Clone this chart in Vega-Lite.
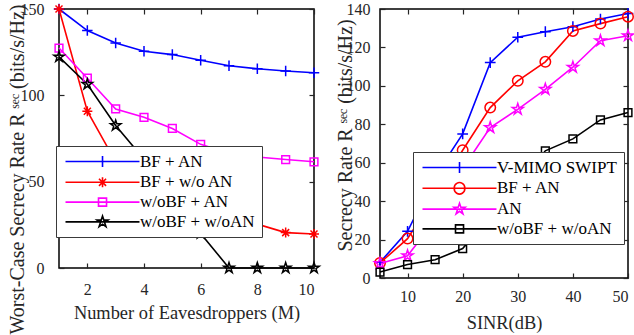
{
  "$schema": "https://vega.github.io/schema/vega-lite/v6.json",
  "padding": {"left": 6, "top": 0, "right": 0, "bottom": 0},
  "background": "white",
  "config": {
    "font": "Liberation Serif",
    "view": {"stroke": "#000000", "strokeWidth": 1.5},
    "axis": {
      "grid": false, "domain": false,
      "labelFont": "Liberation Serif", "labelFontSize": 16, "labelColor": "#262626",
      "titleFont": "Liberation Serif", "titleFontSize": 18.4, "titleFontWeight": "normal", "titleColor": "#262626",
      "tickColor": "#262626", "tickSize": -5, "tickWidth": 1.2
    },
    "legend": {
      "orient": "none", "labelFont": "Liberation Serif", "labelFontSize": 17, "labelColor": "#000000",
      "strokeColor": "#3a3a3a", "fillColor": "#ffffff", "padding": 7, "rowPadding": 1.8,
      "symbolSize": 144, "symbolStrokeWidth": 1.6, "symbolOpacity": 1, "labelOffset": 60, "title": null
    }
  },
  "resolve": {"scale": {"color": "independent", "shape": "independent"}, "legend": {"color": "independent", "shape": "independent"}},
  "datasets": {
    "left": [
      {"M": 1, "series": "BF + AN", "rate": 150}, {"M": 2, "series": "BF + AN", "rate": 137.5}, {"M": 3, "series": "BF + AN", "rate": 130.3}, {"M": 4, "series": "BF + AN", "rate": 125.5}, {"M": 5, "series": "BF + AN", "rate": 123.6}, {"M": 6, "series": "BF + AN", "rate": 120.3}, {"M": 7, "series": "BF + AN", "rate": 117.1}, {"M": 8, "series": "BF + AN", "rate": 115.4}, {"M": 9, "series": "BF + AN", "rate": 114.1}, {"M": 10, "series": "BF + AN", "rate": 113.1},
      {"M": 1, "series": "BF + w/o AN", "rate": 150}, {"M": 2, "series": "BF + w/o AN", "rate": 90.8}, {"M": 3, "series": "BF + w/o AN", "rate": 61.5}, {"M": 4, "series": "BF + w/o AN", "rate": 46}, {"M": 5, "series": "BF + w/o AN", "rate": 37}, {"M": 6, "series": "BF + w/o AN", "rate": 31}, {"M": 7, "series": "BF + w/o AN", "rate": 27.5}, {"M": 8, "series": "BF + w/o AN", "rate": 25.4}, {"M": 9, "series": "BF + w/o AN", "rate": 20.5}, {"M": 10, "series": "BF + w/o AN", "rate": 19.7},
      {"M": 1, "series": "w/oBF + AN", "rate": 127.4}, {"M": 2, "series": "w/oBF + AN", "rate": 109.9}, {"M": 3, "series": "w/oBF + AN", "rate": 92.1}, {"M": 4, "series": "w/oBF + AN", "rate": 87.3}, {"M": 5, "series": "w/oBF + AN", "rate": 80.8}, {"M": 6, "series": "w/oBF + AN", "rate": 71.6}, {"M": 7, "series": "w/oBF + AN", "rate": 66.5}, {"M": 8, "series": "w/oBF + AN", "rate": 64.3}, {"M": 9, "series": "w/oBF + AN", "rate": 62.8}, {"M": 10, "series": "w/oBF + AN", "rate": 61.5},
      {"M": 1, "series": "w/oBF + w/oAN", "rate": 122.3}, {"M": 2, "series": "w/oBF + w/oAN", "rate": 106.4}, {"M": 3, "series": "w/oBF + w/oAN", "rate": 82.5}, {"M": 4, "series": "w/oBF + w/oAN", "rate": 63}, {"M": 5, "series": "w/oBF + w/oAN", "rate": 42}, {"M": 6, "series": "w/oBF + w/oAN", "rate": 20}, {"M": 7, "series": "w/oBF + w/oAN", "rate": 0}, {"M": 8, "series": "w/oBF + w/oAN", "rate": 0}, {"M": 9, "series": "w/oBF + w/oAN", "rate": 0}, {"M": 10, "series": "w/oBF + w/oAN", "rate": 0}
    ],
    "right": [
      {"SINR": 5, "series": "V-MIMO SWIPT", "rate": 8.2}, {"SINR": 10, "series": "V-MIMO SWIPT", "rate": 24.3}, {"SINR": 15, "series": "V-MIMO SWIPT", "rate": 53}, {"SINR": 20, "series": "V-MIMO SWIPT", "rate": 75}, {"SINR": 25, "series": "V-MIMO SWIPT", "rate": 112.1}, {"SINR": 30, "series": "V-MIMO SWIPT", "rate": 125.3}, {"SINR": 35, "series": "V-MIMO SWIPT", "rate": 128.2}, {"SINR": 40, "series": "V-MIMO SWIPT", "rate": 130.8}, {"SINR": 45, "series": "V-MIMO SWIPT", "rate": 134.8}, {"SINR": 50, "series": "V-MIMO SWIPT", "rate": 137.7},
      {"SINR": 5, "series": "BF + AN", "rate": 7.8}, {"SINR": 10, "series": "BF + AN", "rate": 20.5}, {"SINR": 15, "series": "BF + AN", "rate": 43}, {"SINR": 20, "series": "BF + AN", "rate": 66.5}, {"SINR": 25, "series": "BF + AN", "rate": 88.7}, {"SINR": 30, "series": "BF + AN", "rate": 102.6}, {"SINR": 35, "series": "BF + AN", "rate": 112.5}, {"SINR": 40, "series": "BF + AN", "rate": 128.6}, {"SINR": 45, "series": "BF + AN", "rate": 132.4}, {"SINR": 50, "series": "BF + AN", "rate": 136},
      {"SINR": 5, "series": "AN", "rate": 7.5}, {"SINR": 10, "series": "AN", "rate": 11.6}, {"SINR": 15, "series": "AN", "rate": 30}, {"SINR": 20, "series": "AN", "rate": 57}, {"SINR": 25, "series": "AN", "rate": 78.3}, {"SINR": 30, "series": "AN", "rate": 87.8}, {"SINR": 35, "series": "AN", "rate": 98.2}, {"SINR": 40, "series": "AN", "rate": 109.7}, {"SINR": 45, "series": "AN", "rate": 123.5}, {"SINR": 50, "series": "AN", "rate": 126.1},
      {"SINR": 5, "series": "w/oBF + w/oAN", "rate": 3.1}, {"SINR": 10, "series": "w/oBF + w/oAN", "rate": 7}, {"SINR": 15, "series": "w/oBF + w/oAN", "rate": 9.5}, {"SINR": 20, "series": "w/oBF + w/oAN", "rate": 15.3}, {"SINR": 25, "series": "w/oBF + w/oAN", "rate": 32}, {"SINR": 30, "series": "w/oBF + w/oAN", "rate": 49}, {"SINR": 35, "series": "w/oBF + w/oAN", "rate": 66.2}, {"SINR": 40, "series": "w/oBF + w/oAN", "rate": 72.4}, {"SINR": 45, "series": "w/oBF + w/oAN", "rate": 82.3}, {"SINR": 50, "series": "w/oBF + w/oAN", "rate": 86.1}
    ]
  },
  "bounds": "flush",
  "spacing": 66,
  "hconcat": [
    {
      "width": 255, "height": 259,
      "data": {"name": "left"},
      "resolve": {"axis": {"x": "independent", "y": "independent"}},
      "layer": [
        {
          "mark": {"type": "line", "strokeWidth": 1.6},
          "encoding": {
            "x": {"field": "M", "type": "quantitative", "scale": {"domain": [1, 10], "nice": false},
                  "axis": {"orient": "bottom", "values": [2, 4, 6, 8, 10], "title": "Number of Eavesdroppers (M)", "labelPadding": 18, "titleY": 35}},
            "y": {"field": "rate", "type": "quantitative", "scale": {"domain": [0, 150], "nice": false},
                  "axis": {"orient": "left", "values": [0, 50, 100, 150], "title": "Worst-Case Secrecy Rate R ˢᵉᶜ (bits/s/Hz)", "labelPadding": 20, "titleX": -32, "titleY": 160, "titleFontSize": 20}},
            "color": {"field": "series", "type": "nominal", "legend": {"legendX": -3, "legendY": 137},
                      "scale": {"domain": ["BF + AN", "BF + w/o AN", "w/oBF + AN", "w/oBF + w/oAN"], "range": ["#0000ff", "#ff0000", "#ff00ff", "#000000"]}}
          }
        },
        {
          "transform": [{"filter": "datum.series === 'BF + AN'"}],
          "mark": {"type": "point", "shape": "M-1,0H1M0,-1V1", "size": 110, "filled": false, "stroke": "#0000ff", "strokeWidth": 1.5, "opacity": 1},
          "encoding": {"x": {"field": "M", "type": "quantitative", "scale": {"domain": [1, 10], "nice": false}, "axis": null}, "y": {"field": "rate", "type": "quantitative", "scale": {"domain": [0, 150], "nice": false}, "axis": null}}
        },
        {
          "transform": [{"filter": "datum.series === 'BF + w/o AN'"}],
          "mark": {"type": "point", "shape": "M-1,0H1M0,-1V1M-0.7,-0.7L0.7,0.7M-0.7,0.7L0.7,-0.7", "size": 100, "filled": false, "stroke": "#ff0000", "strokeWidth": 1.5, "opacity": 1},
          "encoding": {"x": {"field": "M", "type": "quantitative", "scale": {"domain": [1, 10], "nice": false}, "axis": null}, "y": {"field": "rate", "type": "quantitative", "scale": {"domain": [0, 150], "nice": false}, "axis": null}}
        },
        {
          "transform": [{"filter": "datum.series === 'w/oBF + AN'"}],
          "mark": {"type": "point", "shape": "square", "size": 60, "filled": false, "stroke": "#ff00ff", "strokeWidth": 1.5, "opacity": 1},
          "encoding": {"x": {"field": "M", "type": "quantitative", "scale": {"domain": [1, 10], "nice": false}, "axis": null}, "y": {"field": "rate", "type": "quantitative", "scale": {"domain": [0, 150], "nice": false}, "axis": null}}
        },
        {
          "transform": [{"filter": "datum.series === 'w/oBF + w/oAN'"}],
          "mark": {"type": "point", "shape": "M0,-1L0.225,-0.309L0.951,-0.309L0.363,0.118L0.588,0.809L0,0.382L-0.588,0.809L-0.363,0.118L-0.951,-0.309L-0.225,-0.309Z", "size": 120, "filled": false, "stroke": "#000000", "strokeWidth": 1.5, "opacity": 1},
          "encoding": {"x": {"field": "M", "type": "quantitative", "scale": {"domain": [1, 10], "nice": false}, "axis": null}, "y": {"field": "rate", "type": "quantitative", "scale": {"domain": [0, 150], "nice": false}, "axis": null}}
        },
        {
          "mark": {"type": "point", "filled": false, "opacity": 0},
          "encoding": {
            "x": {"field": "M", "type": "quantitative", "scale": {"domain": [1, 10], "nice": false}, "axis": {"orient": "top", "labels": false, "title": null, "values": [2, 4, 6, 8, 10]}},
            "y": {"field": "rate", "type": "quantitative", "scale": {"domain": [0, 150], "nice": false}, "axis": {"orient": "right", "labels": false, "title": null, "values": [0, 50, 100, 150]}},
            "color": {"field": "series", "type": "nominal", "legend": {"legendX": -3, "legendY": 137}},
            "shape": {"field": "series", "type": "nominal", "legend": {"legendX": -3, "legendY": 137},
                      "scale": {"domain": ["BF + AN", "BF + w/o AN", "w/oBF + AN", "w/oBF + w/oAN"],
                                "range": ["M-1,0H11.33M5.17,-0.92V0.92", "M-1,0H11.33M5.17,-0.83V0.83M4.58,-0.59L5.76,0.59M4.58,0.59L5.76,-0.59", "M-1,0H11.33M4.5,-0.67H5.84V0.67H4.5Z", "M-1,0H11.33M5.17,-0.967L5.39,-0.299L6.09,-0.299L5.52,0.114L5.74,0.782L5.17,0.369L4.6,0.782L4.82,0.114L4.25,-0.299L4.95,-0.299Z"]}}
          }
        }
      ]
    },
    {
      "width": 248, "height": 269,
      "data": {"name": "right"},
      "resolve": {"axis": {"x": "independent", "y": "independent"}},
      "layer": [
        {
          "mark": {"type": "line", "strokeWidth": 1.6},
          "encoding": {
            "x": {"field": "SINR", "type": "quantitative", "scale": {"domain": [5, 50], "nice": false},
                  "axis": {"orient": "bottom", "values": [10, 20, 30, 40, 50], "title": "SINR(dB)", "labelPadding": 15, "titleY": 35}},
            "y": {"field": "rate", "type": "quantitative", "scale": {"domain": [0, 140], "nice": false},
                  "axis": {"orient": "left", "values": [0, 20, 40, 60, 80, 100, 120, 140], "title": "Secrecy Rate R ˢᵉᶜ (bits/s/Hz)", "labelPadding": 15, "titleX": -25, "titleY": 126, "titleFontSize": 20}},
            "color": {"field": "series", "type": "nominal", "legend": {"legendX": 33, "legendY": 143},
                      "scale": {"domain": ["V-MIMO SWIPT", "BF + AN", "AN", "w/oBF + w/oAN"], "range": ["#0000ff", "#ff0000", "#ff00ff", "#000000"]}}
          }
        },
        {
          "transform": [{"filter": "datum.series === 'V-MIMO SWIPT'"}],
          "mark": {"type": "point", "shape": "M-1,0H1M0,-1V1", "size": 115, "filled": false, "stroke": "#0000ff", "strokeWidth": 1.5, "opacity": 1},
          "encoding": {"x": {"field": "SINR", "type": "quantitative", "scale": {"domain": [5, 50], "nice": false}, "axis": null}, "y": {"field": "rate", "type": "quantitative", "scale": {"domain": [0, 140], "nice": false}, "axis": null}}
        },
        {
          "transform": [{"filter": "datum.series === 'BF + AN'"}],
          "mark": {"type": "point", "shape": "circle", "size": 110, "filled": false, "stroke": "#ff0000", "strokeWidth": 1.5, "opacity": 1},
          "encoding": {"x": {"field": "SINR", "type": "quantitative", "scale": {"domain": [5, 50], "nice": false}, "axis": null}, "y": {"field": "rate", "type": "quantitative", "scale": {"domain": [0, 140], "nice": false}, "axis": null}}
        },
        {
          "transform": [{"filter": "datum.series === 'AN'"}],
          "mark": {"type": "point", "shape": "M0,-1L0.225,-0.309L0.951,-0.309L0.363,0.118L0.588,0.809L0,0.382L-0.588,0.809L-0.363,0.118L-0.951,-0.309L-0.225,-0.309Z", "size": 135, "filled": false, "stroke": "#ff00ff", "strokeWidth": 1.5, "opacity": 1},
          "encoding": {"x": {"field": "SINR", "type": "quantitative", "scale": {"domain": [5, 50], "nice": false}, "axis": null}, "y": {"field": "rate", "type": "quantitative", "scale": {"domain": [0, 140], "nice": false}, "axis": null}}
        },
        {
          "transform": [{"filter": "datum.series === 'w/oBF + w/oAN'"}],
          "mark": {"type": "point", "shape": "square", "size": 60, "filled": false, "stroke": "#000000", "strokeWidth": 1.5, "opacity": 1},
          "encoding": {"x": {"field": "SINR", "type": "quantitative", "scale": {"domain": [5, 50], "nice": false}, "axis": null}, "y": {"field": "rate", "type": "quantitative", "scale": {"domain": [0, 140], "nice": false}, "axis": null}}
        },
        {
          "mark": {"type": "point", "filled": false, "opacity": 0},
          "encoding": {
            "x": {"field": "SINR", "type": "quantitative", "scale": {"domain": [5, 50], "nice": false}, "axis": {"orient": "top", "labels": false, "title": null, "values": [10, 20, 30, 40, 50]}},
            "y": {"field": "rate", "type": "quantitative", "scale": {"domain": [0, 140], "nice": false}, "axis": {"orient": "right", "labels": false, "title": null, "values": [0, 20, 40, 60, 80, 100, 120, 140]}},
            "color": {"field": "series", "type": "nominal", "legend": {"legendX": 33, "legendY": 143}},
            "shape": {"field": "series", "type": "nominal", "legend": {"legendX": 33, "legendY": 143},
                      "scale": {"domain": ["V-MIMO SWIPT", "BF + AN", "AN", "w/oBF + w/oAN"],
                                "range": ["M-1,0H11.33M5.17,-0.92V0.92", "M-1,0H11.33M6.05,0A0.883,0.883 0 1,1 4.29,0A0.883,0.883 0 1,1 6.05,0Z", "M-1,0H11.33M5.17,-0.967L5.39,-0.299L6.09,-0.299L5.52,0.114L5.74,0.782L5.17,0.369L4.6,0.782L4.82,0.114L4.25,-0.299L4.95,-0.299Z", "M-1,0H11.33M4.5,-0.67H5.84V0.67H4.5Z"]}}
          }
        }
      ]
    }
  ]
}
